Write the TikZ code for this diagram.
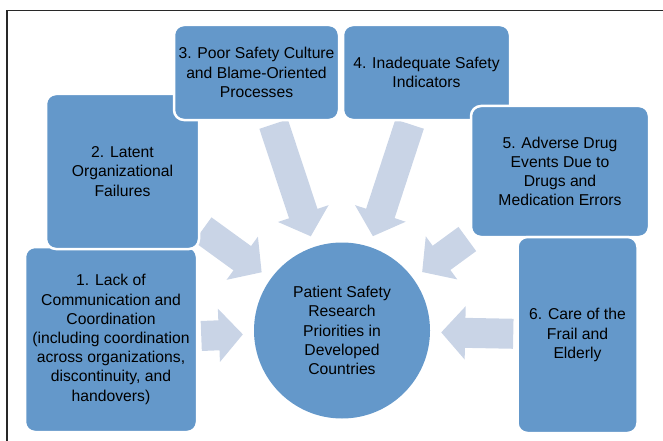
\documentclass[tikz,border=0pt]{standalone}
\usepackage{fontspec}
\setmainfont{Liberation Sans}
\usepackage{tikz}
\usetikzlibrary{arrows.meta,backgrounds}
\definecolor{boxblue}{RGB}{100,152,202}
\definecolor{arrowblue}{RGB}{201,212,230}
\definecolor{framegray}{RGB}{40,40,40}

\tikzset{
  factor/.style={rectangle, rounded corners=10pt, draw=white, line width=2.5pt,
    fill=boxblue, align=center, inner sep=2pt,
    font=\fontsize{15.7}{19.2}\selectfont},
  flow/.style={draw=arrowblue, line width=30pt,
    -{Triangle[length=24pt,width=52pt]}, shorten <=3pt, shorten >=11pt}
}

\begin{document}
\begin{tikzpicture}[x=1pt,y=-1pt]
\useasboundingbox (0,0) rectangle (663,441);
% Frame
\draw[line width=1.3pt, framegray] (7,441) -- (7,10.5) -- (663,10.5);

% Centre
\node[circle, fill=boxblue, minimum size=176pt, align=center, inner sep=0pt,
  font=\fontsize{15.7}{19.2}\selectfont] (hub) at (342,330.5)
  {Patient Safety\\Research\\Priorities in\\Developed\\Countries};

% Factors
\node[factor, minimum width=172pt, minimum height=185pt] (lack) at (111,339.5)
  {1. Lack of\\Communication and\\Coordination\\(including coordination\\across organizations,\\discontinuity, and\\handovers)};
\node[factor, minimum width=153pt, minimum height=155pt] (latent) at (122.5,171.5)
  {2. Latent\\Organizational\\Failures};
\node[factor, minimum width=165pt, minimum height=95pt] (culture) at (256.5,72.5)
  {3. Poor Safety Culture\\and Blame-Oriented\\Processes};
\node[factor, minimum width=167pt, minimum height=95pt] (indicators) at (426.5,72.5)
  {4. Inadequate Safety\\Indicators};
\node[factor, minimum width=178pt, minimum height=131pt] (drugs) at (560,171.5)
  {5. Adverse Drug\\Events Due to\\Drugs and\\Medication Errors};
\node[factor, minimum width=120pt, minimum height=196pt] (frail) at (577.5,335)
  {6. Care of the\\Frail and\\Elderly};

% Arrows into the centre
\begin{scope}[on background layer]
\foreach \src in {lack,latent,culture,indicators,drugs,frail}
  \draw[flow] (\src) -- (hub);
\end{scope}
\end{tikzpicture}
\end{document}
